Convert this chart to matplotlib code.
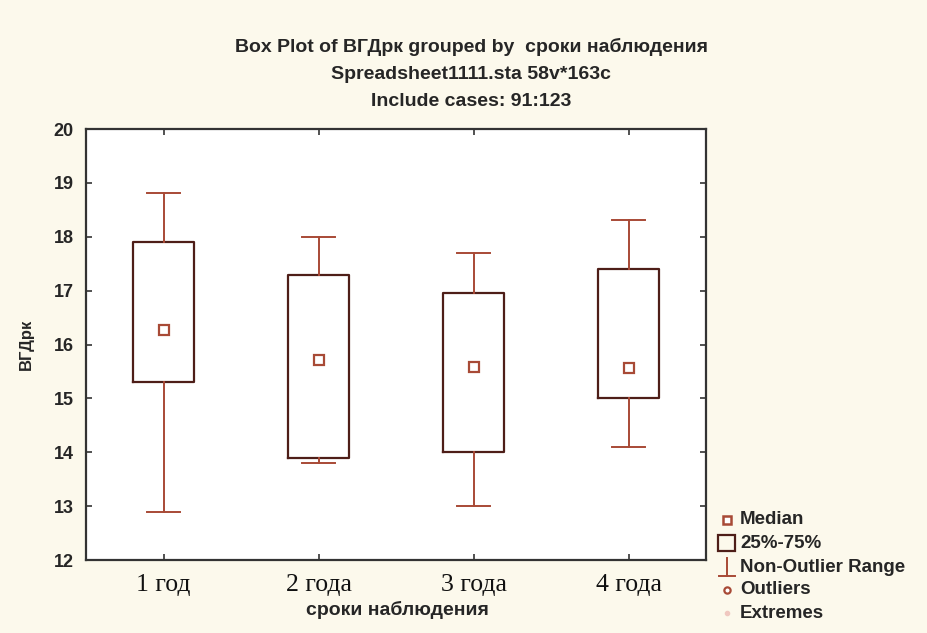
import matplotlib
matplotlib.use("Agg")
import matplotlib.pyplot as plt
from matplotlib.lines import Line2D
from matplotlib.patches import Rectangle

# данные
groups = ["1 год", "2 года", "3 года", "4 года"]
medians = [16.27, 15.72, 15.58, 15.57]
q1 = [15.31, 13.90, 14.00, 15.00]
q3 = [17.90, 17.30, 16.96, 17.40]
whis_lo = [12.90, 13.80, 13.00, 14.10]
whis_hi = [18.81, 18.00, 17.70, 18.32]
yticks = [12, 13, 14, 15, 16, 17, 18, 19, 20]

bg = "#fcf9ec"
box_col = "#4e1e18"
whisk_col = "#a84a36"
txt = "#262626"

plt.rcParams['font.family'] = ['Liberation Sans', 'DejaVu Sans']

fig = plt.figure(figsize=(9.28, 6.33), dpi=100, facecolor=bg)
ax = fig.add_axes([0.0927, 0.1153, 0.6683, 0.6807])
ax.set_facecolor("white")

stats = []
for i in range(len(groups)):
    stats.append(dict(med=medians[i], q1=q1[i], q3=q3[i],
                      whislo=whis_lo[i], whishi=whis_hi[i], fliers=[]))
pos = list(range(1, len(groups) + 1))
ax.bxp(stats, positions=pos, widths=0.39, showfliers=False,
       boxprops=dict(color=box_col, linewidth=1.6),
       whiskerprops=dict(color=whisk_col, linewidth=1.4),
       capprops=dict(color=whisk_col, linewidth=1.4),
       medianprops=dict(linestyle="none"),
       capwidths=0.21)
ax.plot(pos, medians, "s", ms=6.5, mfc="white", mec=whisk_col, mew=1.6,
        linestyle="none", zorder=5)

ax.set_xlim(0.5, 4.5)
ax.set_ylim(12, 20)
ax.set_yticks(yticks)
ax.set_yticklabels([str(v) for v in yticks], fontsize=13, fontweight="bold",
                   color=txt)
ax.set_xticks(pos)
ax.set_xticklabels(groups, family=["Liberation Serif", "DejaVu Serif"],
                   fontsize=18.5, color="#111111")
ax.tick_params(axis="both", direction="in", length=4, width=1.2,
               color="#333333", top=True, right=True)
ax.tick_params(axis="x", pad=10)
ax.tick_params(axis="y", pad=9)
for s in ax.spines.values():
    s.set_color("#333333")
    s.set_linewidth(1.6)

ax.set_ylabel("ВГДрк", fontsize=12, fontweight="bold", color=txt,
              labelpad=14)
fig.text(0.428, 0.036, "сроки наблюдения", ha="center", va="center",
         fontsize=14, fontweight="bold", color=txt)

fig.text(0.508, 0.926, "Box Plot of ВГДрк grouped by  сроки наблюдения",
         ha="center", va="center", fontsize=14, fontweight="bold", color=txt)
fig.text(0.508, 0.883, "Spreadsheet1111.sta 58v*163c",
         ha="center", va="center", fontsize=14, fontweight="bold", color=txt)
fig.text(0.508, 0.840, "Include cases: 91:123",
         ha="center", va="center", fontsize=14, fontweight="bold", color=txt)

# легенда в стиле Statistica
lx = 727 / 928
labels = ["Median", "25%-75%", "Non-Outlier Range", "Outliers", "Extremes"]
ys = [1 - y / 633 for y in [520, 543, 567, 590, 613]]
for lab, y in zip(labels, ys):
    fig.text(740 / 928, y, lab, ha="left", va="center", fontsize=13.5,
             fontweight="bold", color=txt)
fig.add_artist(Line2D([lx], [ys[0]], marker="s", ms=5.5, mfc="white",
                      mec=whisk_col, mew=1.8, transform=fig.transFigure))
fig.add_artist(Rectangle((718 / 928, ys[1] - 8 / 633), 17 / 928, 16 / 633,
                         fill=False, ec=box_col, lw=1.6,
                         transform=fig.transFigure))
hx = 8 / 928
fig.add_artist(Line2D([lx, lx], [ys[2] - 9 / 633, ys[2] + 9 / 633],
                      color=whisk_col, lw=1.4, transform=fig.transFigure))
fig.add_artist(Line2D([lx - hx, lx + hx], [ys[2] - 9 / 633] * 2,
                      color=whisk_col, lw=1.4, transform=fig.transFigure))
fig.add_artist(Line2D([lx], [ys[3]], marker="o", ms=4.5, mfc="white",
                      mec=whisk_col, mew=1.6, transform=fig.transFigure))
fig.add_artist(Line2D([lx], [ys[4]], marker="o", ms=3, mfc="#f0c8c0",
                      mec="#f0c8c0", transform=fig.transFigure))

fig.savefig("out.png", dpi=100, facecolor=bg)
